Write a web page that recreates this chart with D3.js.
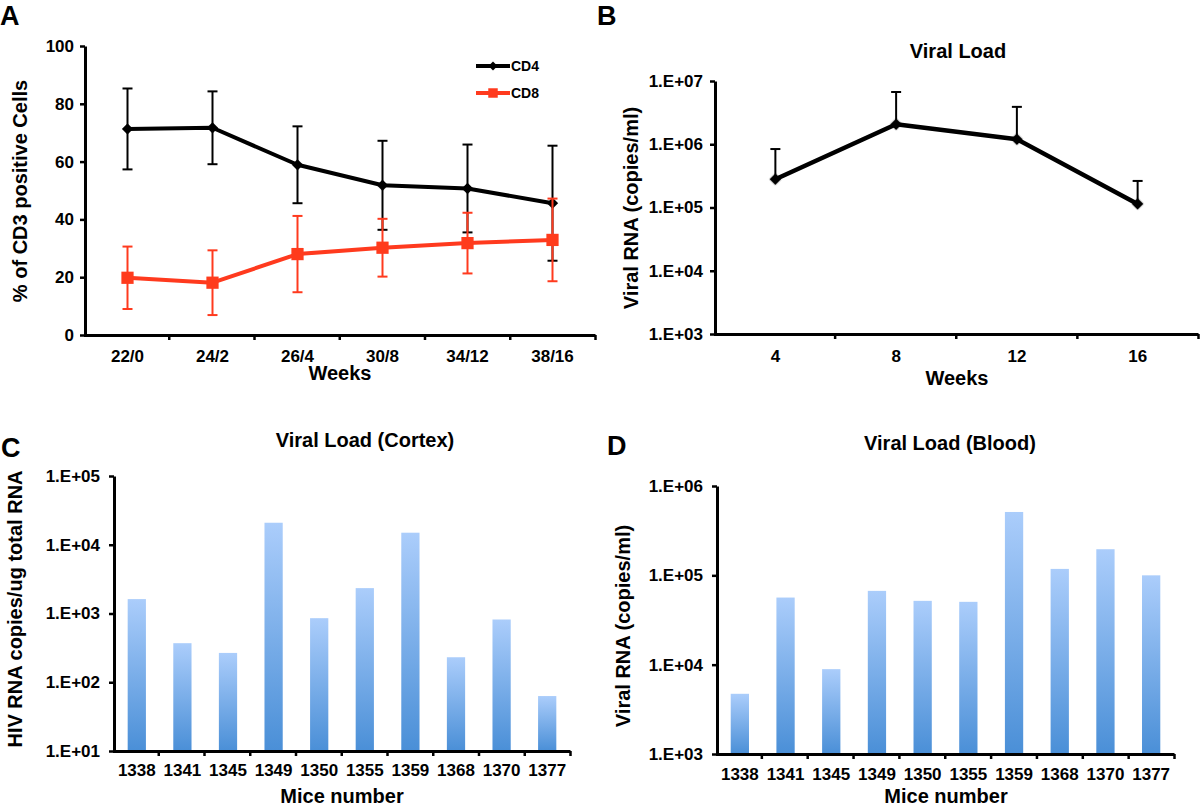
<!DOCTYPE html>
<html><head><meta charset="utf-8">
<script src="https://cdn.jsdelivr.net/npm/d3@7"></script>
<style>
body{margin:0;background:#fff}
svg{display:block}
text{font-family:"Liberation Sans",Arial,Helvetica,sans-serif;font-weight:bold;fill:#000}
</style>
</head><body>
<svg id="c" width="1200" height="808"></svg>
<script>
// ---------- DATA ----------
const weeksA = ["22/0","24/2","26/4","30/8","34/12","38/16"];
const cd4Mean = [71.3, 71.7, 58.9, 51.8, 50.7, 45.6];
const cd4Err  = [14.0, 12.6, 13.3, 15.4, 15.2, 19.9];
const cd8Mean = [19.8, 18.1, 28.0, 30.2, 31.8, 32.9];
const cd8Err  = [10.8, 11.2, 13.2, 10.0, 10.5, 14.3];
const ticksA  = [0, 20, 40, 60, 80, 100];

const weeksB  = ["4","8","12","16"];
const vlMean  = [2.8e5, 2.07e6, 1.2e6, 1.14e5];
const vlUpper = [8.4e5, 6.7e6, 3.9e6, 2.63e5];
const ticksB  = [1e3, 1e4, 1e5, 1e6, 1e7];

const mice    = ["1338","1341","1345","1349","1350","1355","1359","1368","1370","1377"];
const cortex  = [1620, 370, 267, 20900, 855, 2340, 14970, 231, 818, 63];
const ticksC  = [1e1, 1e2, 1e3, 1e4, 1e5];
const blood   = [4720, 56400, 8910, 67000, 51800, 50500, 512000, 118000, 196000, 100000];
const ticksD  = [1e3, 1e4, 1e5, 1e6];

// ---------- SETUP ----------
const svg = d3.select("#c");
const defs = svg.append("defs");
const grad = defs.append("linearGradient").attr("id","barGrad")
  .attr("x1",0).attr("y1",0).attr("x2",0).attr("y2",1);
grad.append("stop").attr("offset","0%").attr("stop-color","#abcdfb");
grad.append("stop").attr("offset","100%").attr("stop-color","#4a8fd7");
const blur = defs.append("filter").attr("id","soft").attr("x","-50%").attr("y","-50%").attr("width","200%").attr("height","200%");
blur.append("feGaussianBlur").attr("stdDeviation",0.7);

const RED = "#ff3a1e";
const TICK_FS = 17, TITLE_FS = 20, LETTER_FS = 27;
const expFmt = d => "1.E+" + String(Math.round(Math.log10(d))).padStart(2,"0");

function styleAxis(g, fs){
  g.select(".domain").attr("stroke","#000").attr("stroke-width",3);
  g.selectAll(".tick line").attr("stroke","#000").attr("stroke-width",2.5);
  g.selectAll("text").style("font-size", fs+"px").attr("fill","#000")
    .style("font-family",'"Liberation Sans",Arial,sans-serif').style("font-weight","bold");
}
function yAxis(scale, x, ticks, fmt, pad){
  const g = svg.append("g").attr("transform",`translate(${x},0)`)
    .call(d3.axisLeft(scale).tickValues(ticks).tickFormat(fmt).tickSize(5).tickSizeOuter(0).tickPadding(pad));
  styleAxis(g, TICK_FS);
  return g;
}
function xBandAxis(band, y, labelOffset){
  const r = band.range();
  const b = d3.scaleLinear().domain([0, band.domain().length]).range([r[0]-1.5, r[1]]);
  const g1 = svg.append("g").attr("transform",`translate(0,${y})`)
    .call(d3.axisBottom(b).tickValues(d3.range(1, band.domain().length+1)).tickFormat("").tickSize(5).tickSizeOuter(0));
  styleAxis(g1, TICK_FS);
  const g2 = svg.append("g").attr("transform",`translate(0,${y})`)
    .call(d3.axisBottom(band).tickSize(0));
  g2.select(".domain").remove();
  styleAxis(g2, TICK_FS);
  g2.selectAll("text").attr("y", labelOffset).attr("dy", 0);
}
function text(x, y, str, fs, anchor="middle", rot=false){
  const t = svg.append("text").text(str).style("font-size", fs+"px").attr("text-anchor", anchor);
  if(rot) t.attr("transform",`translate(${x},${y}) rotate(-90)`);
  else t.attr("x", x).attr("y", y);
  return t;
}
function errBars(xs, cx, ys, means, errs, color, both, cap){
  const g = svg.append("g").attr("stroke", color).attr("stroke-width", 2).attr("fill","none");
  xs.forEach((k,i)=>{
    const x = cx(k), yT = ys(means[i]+errs[i]), yB = both ? ys(means[i]-errs[i]) : ys(means[i]);
    g.append("line").attr("x1",x).attr("x2",x).attr("y1",yT).attr("y2",yB);
    g.append("line").attr("x1",x-cap).attr("x2",x+cap).attr("y1",yT).attr("y2",yT);
    if(both) g.append("line").attr("x1",x-cap).attr("x2",x+cap).attr("y1",yB).attr("y2",yB);
  });
}

// ---------- PANEL A ----------
const xA = d3.scaleBand().domain(weeksA).range([85, 595]);
const yA = d3.scaleLinear().domain([0, 100]).range([335, 46]);
const cxA = w => xA(w) + xA.bandwidth()/2;
yAxis(yA, 85, ticksA, d3.format("d"), 6);
xBandAxis(xA, 335, 27);

errBars(weeksA, cxA, yA, cd4Mean, cd4Err, "#000", true, 5);
const lineA = d3.line().x(d=>cxA(d[0])).y(d=>yA(d[1]));
svg.append("path").attr("d", lineA(weeksA.map((w,i)=>[w,cd4Mean[i]])))
  .attr("fill","none").attr("stroke","#000").attr("stroke-width",4).attr("stroke-linejoin","round");
svg.append("g").selectAll("path").data(weeksA).join("path")
  .attr("d", d3.symbol(d3.symbolSquare, 64)())
  .attr("transform",(w,i)=>`translate(${cxA(w)},${yA(cd4Mean[i])}) rotate(45)`)
  .attr("fill","#000").attr("filter","url(#soft)");

errBars(weeksA, cxA, yA, cd8Mean, cd8Err, RED, true, 5);
svg.append("path").attr("d", lineA(weeksA.map((w,i)=>[w,cd8Mean[i]])))
  .attr("fill","none").attr("stroke",RED).attr("stroke-width",4).attr("stroke-linejoin","round");
svg.append("g").selectAll("path").data(weeksA).join("path")
  .attr("d", d3.symbol(d3.symbolSquare, 150)())
  .attr("transform",(w,i)=>`translate(${cxA(w)},${yA(cd8Mean[i])})`)
  .attr("fill",RED).attr("filter","url(#soft)");

// legend
const legA = [["CD4","#000",66],["CD8",RED,93]];
legA.forEach(([lab,col,y])=>{
  svg.append("line").attr("x1",476).attr("x2",510).attr("y1",y).attr("y2",y).attr("stroke",col).attr("stroke-width",4);
  if(lab==="CD4") svg.append("path").attr("d",d3.symbol(d3.symbolSquare,40)()).attr("transform",`translate(493,${y}) rotate(45)`).attr("fill",col);
  else svg.append("path").attr("d",d3.symbol(d3.symbolSquare,90)()).attr("transform",`translate(493,${y})`).attr("fill",col);
  text(511, y+5, lab, 14, "start");
});
text(0, 25, "A", LETTER_FS, "start");
text(340, 380, "Weeks", TITLE_FS);
text(27, 191, "% of CD3 positive Cells", TITLE_FS, "middle", true);

// ---------- PANEL B ----------
const xB = d3.scaleBand().domain(weeksB).range([715, 1198]);
const yB = d3.scaleLog().domain([1e3, 1e7]).range([334, 81]);
const cxB = w => xB(w) + xB.bandwidth()/2;
yAxis(yB, 715, ticksB, expFmt, 7);
xBandAxis(xB, 334, 28);
errBars(weeksB, cxB, yB, vlMean, vlMean.map((m,i)=>vlUpper[i]-m), "#000", false, 5);
const lineB = d3.line().x(d=>cxB(d[0])).y(d=>yB(d[1]));
svg.append("path").attr("d", lineB(weeksB.map((w,i)=>[w,vlMean[i]])))
  .attr("fill","none").attr("stroke","#000").attr("stroke-width",4.5).attr("stroke-linejoin","round");
svg.append("g").selectAll("path").data(weeksB).join("path")
  .attr("d", d3.symbol(d3.symbolSquare, 70)())
  .attr("transform",(w,i)=>`translate(${cxB(w)},${yB(vlMean[i])}) rotate(45)`)
  .attr("fill","#000").attr("filter","url(#soft)");
text(597, 25, "B", LETTER_FS, "start");
text(958, 58, "Viral Load", TITLE_FS);
text(957, 385, "Weeks", TITLE_FS);
text(638, 208, "Viral RNA (copies/ml)", TITLE_FS, "middle", true);

// ---------- PANEL C ----------
const xC = d3.scaleBand().domain(mice).range([114, 570]).paddingInner(0.6).paddingOuter(0.3);
const yC = d3.scaleLog().domain([1e1, 1e5]).range([751, 476]);
svg.append("g").selectAll("rect").data(mice).join("rect")
  .attr("x", m=>xC(m)).attr("width", xC.bandwidth())
  .attr("y",(m,i)=>yC(cortex[i])).attr("height",(m,i)=>yC(1e1)-yC(cortex[i]))
  .attr("fill","url(#barGrad)");
yAxis(yC, 114, ticksC, expFmt, 9);
xBandAxis(d3.scaleBand().domain(mice).range([114,570]), 751, 25);
text(1, 457, "C", LETTER_FS, "start");
text(365, 447, "Viral Load (Cortex)", TITLE_FS);
text(342, 803, "Mice number", TITLE_FS);
text(22, 609, "HIV RNA copies/ug total RNA", TITLE_FS, "middle", true);

// ---------- PANEL D ----------
const xD = d3.scaleBand().domain(mice).range([717, 1174]).paddingInner(0.6).paddingOuter(0.3);
const yD = d3.scaleLog().domain([1e3, 1e6]).range([754, 486]);
svg.append("g").selectAll("rect").data(mice).join("rect")
  .attr("x", m=>xD(m)).attr("width", xD.bandwidth())
  .attr("y",(m,i)=>yD(blood[i])).attr("height",(m,i)=>yD(1e3)-yD(blood[i]))
  .attr("fill","url(#barGrad)");
yAxis(yD, 717, ticksD, expFmt, 9);
xBandAxis(d3.scaleBand().domain(mice).range([717,1174]), 754, 26);
text(607, 455, "D", LETTER_FS, "start");
text(950, 450, "Viral Load (Blood)", TITLE_FS);
text(946, 803, "Mice number", TITLE_FS);
text(630, 626, "Viral RNA (copies/ml)", TITLE_FS, "middle", true);
</script>
</body></html>
